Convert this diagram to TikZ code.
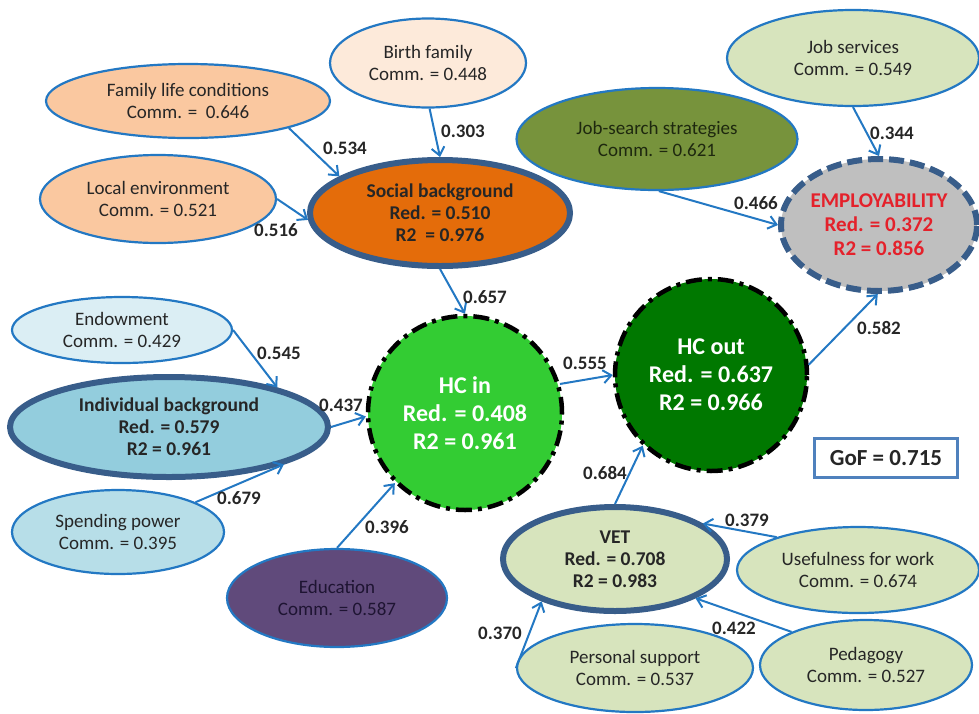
\documentclass[tikz,border=0pt]{standalone}
\usepackage{fontspec}
\setmainfont{Carlito}
\usepackage{tikz}
\usetikzlibrary{arrows.meta, shapes.geometric}
\definecolor{colorLink}{RGB}{35,120,195}
\definecolor{colorFrame}{RGB}{56,93,138}
\definecolor{colorText}{RGB}{38,38,38}
\definecolor{colorBirth}{RGB}{253,234,218}
\definecolor{colorFamily}{RGB}{250,200,160}
\definecolor{colorSocial}{RGB}{228,108,10}
\definecolor{colorVet}{RGB}{215,228,189}
\definecolor{colorSearch}{RGB}{119,147,60}
\definecolor{colorEmploy}{RGB}{191,191,191}
\definecolor{colorEmployText}{RGB}{228,33,43}
\definecolor{colorEndow}{RGB}{219,238,244}
\definecolor{colorIndiv}{RGB}{147,205,221}
\definecolor{colorSpend}{RGB}{183,222,232}
\definecolor{colorEduc}{RGB}{96,74,123}
\definecolor{colorHcIn}{RGB}{51,204,51}
\definecolor{colorHcOut}{RGB}{0,120,0}
\definecolor{colorGof}{RGB}{79,129,189}

\begin{document}
\begin{tikzpicture}[x=1pt, y=-1pt, >={Straight Barb[length=8pt,width=13pt]},
  comm/.style={ellipse, draw=colorLink, line width=2.2pt, inner sep=0pt, align=center, text=colorText, font=\fontsize{19}{22}\selectfont},
  latent/.style={ellipse, draw=colorFrame, line width=6pt, inner sep=0pt, align=center, text=colorText, font=\bfseries\fontsize{19.5}{22}\selectfont},
  hc/.style={circle, draw=black, line width=4.5pt, dash pattern=on 16pt off 6pt on 4pt off 6pt, inner sep=0pt, minimum size=194, align=center, text=white, font=\bfseries\fontsize{24}{28}\selectfont},
  link/.style={->, draw=colorLink, line width=2pt},
  weight/.style={text=colorText, font=\bfseries\fontsize{19}{22}\selectfont, inner sep=0pt}]
\useasboundingbox (0,0) rectangle (979,713);
% social side
\node[comm, fill=colorBirth, minimum width=196, minimum height=89] (birth) at (428,63) {Birth family\\Comm. = 0.448};
\node[comm, fill=colorFamily, minimum width=284, minimum height=74] (famlife) at (188,101) {Family life conditions\\Comm. =\ \ 0.646};
\node[comm, fill=colorFamily, minimum width=236, minimum height=88] (localenv) at (158,199) {Local environment\\Comm. = 0.521};
\node[latent, fill=colorSocial, minimum width=260, minimum height=106] (social) at (440,213) {Social background\\Red. = 0.510\\R2\ \ = 0.976};
% employability side
\node[comm, fill=colorVet, minimum width=252, minimum height=96] (jobserv) at (853,58) {Job services\\Comm. = 0.549};
\node[comm, fill=colorSearch, text={rgb,255:red,30;green,40;blue,15}, minimum width=281, minimum height=102] (jobsearch) at (657,139) {Job-search strategies\\Comm. = 0.621};
\node[ellipse, draw=colorFrame, line width=6pt, dash pattern=on 15pt off 6pt, fill=colorEmploy, inner sep=0pt, minimum width=196, minimum height=132, align=center, text=colorEmployText, font=\bfseries\fontsize{21}{24}\selectfont] (employ) at (879,225) {EMPLOYABILITY\\Red. = 0.372\\R2 = 0.856};
% individual side
\node[comm, fill=colorEndow, minimum width=220, minimum height=66] (endow) at (122,330) {Endowment\\Comm. = 0.429};
\node[latent, fill=colorIndiv, minimum width=318, minimum height=100] (indiv) at (169,427) {Individual background\\Red. = 0.579\\R2 = 0.961};
\node[comm, fill=colorSpend, minimum width=212, minimum height=84] (spend) at (118,532) {Spending power\\Comm. = 0.395};
\node[comm, fill=colorEduc, text={rgb,255:red,30;green,20;blue,50}, minimum width=220, minimum height=98] (educ) at (337,598) {Education\\Comm. = 0.587};
% human capital
\node[hc, fill=colorHcIn] (hcin) at (465,413) {HC in\\Red. = 0.408\\R2 = 0.961};
\node[hc, fill=colorHcOut, minimum size=192] (hcout) at (711,375) {HC out\\Red. = 0.637\\R2 = 0.966};
\node[draw=colorGof, line width=2.5pt, fill=white, minimum width=143, minimum height=39, text=colorText, font=\bfseries\fontsize{23}{26}\selectfont] (gof) at (886,458) {GoF = 0.715};
% vet side
\node[latent, fill=colorVet, minimum width=224, minimum height=104] (vet) at (615,559) {VET\\Red. = 0.708\\R2 = 0.983};
\node[comm, fill=colorVet, minimum width=242, minimum height=86] (useful) at (858,570) {Usefulness for work\\Comm. = 0.674};
\node[comm, fill=colorVet, minimum width=236, minimum height=88] (personal) at (635,668) {Personal support\\Comm. = 0.537};
\node[comm, fill=colorVet, minimum width=212, minimum height=90] (pedag) at (866,665) {Pedagogy\\Comm. = 0.527};
% paths
\draw[link] (famlife.-15) -- (social.160) node[weight] (w534) at (345,148) {0.534};
\draw[link] (birth.-88) -- (social.north) node[weight] (w303) at (463,131) {0.303};
\draw[link] (localenv.east) -- (social.183) node[weight] (w516) at (276,230) {0.516};
\draw[link] (social.south) -- (hcin.north) node[weight] (w657) at (485,297) {0.657};
\draw[link] (jobsearch.-88) -- (employ.west) node[weight] (w466) at (756,203) {0.466};
\draw[link] (jobserv.south) -- (employ.north) node[weight] (w344) at (892,133) {0.344};
\draw[link] (hcout.6) -- (employ.-91) node[weight] (w582) at (879,328) {0.582};
\draw[link] (endow.east) -- (indiv.20) node[weight] (w545) at (279,353) {0.545};
\draw[link] (indiv.east) -- (hcin.182) node[weight] (w437) at (341,405) {0.437};
\draw[link] (spend.21) -- (indiv.-18) node[weight] (w679) at (239,498) {0.679};
\draw[link] (educ.north) -- (hcin.225) node[weight] (w396) at (387,527) {0.396};
\draw[link] (hcin.17) -- (hcout.180) node[weight] (w555) at (585,363) {0.555};
\draw[link] (vet.north) -- (hcout.226) node[weight] (w684) at (605,473) {0.684};
\draw[link] (useful.158) -- (vet.22) node[weight] (w379) at (747,520) {0.379};
\draw[link] (pedag.156) -- (vet.-26) node[weight] (w422) at (734,628) {0.422};
\draw[link] (personal.west) -- (vet.210) node[weight] (w370) at (500,633) {0.370};
\end{tikzpicture}
\end{document}
